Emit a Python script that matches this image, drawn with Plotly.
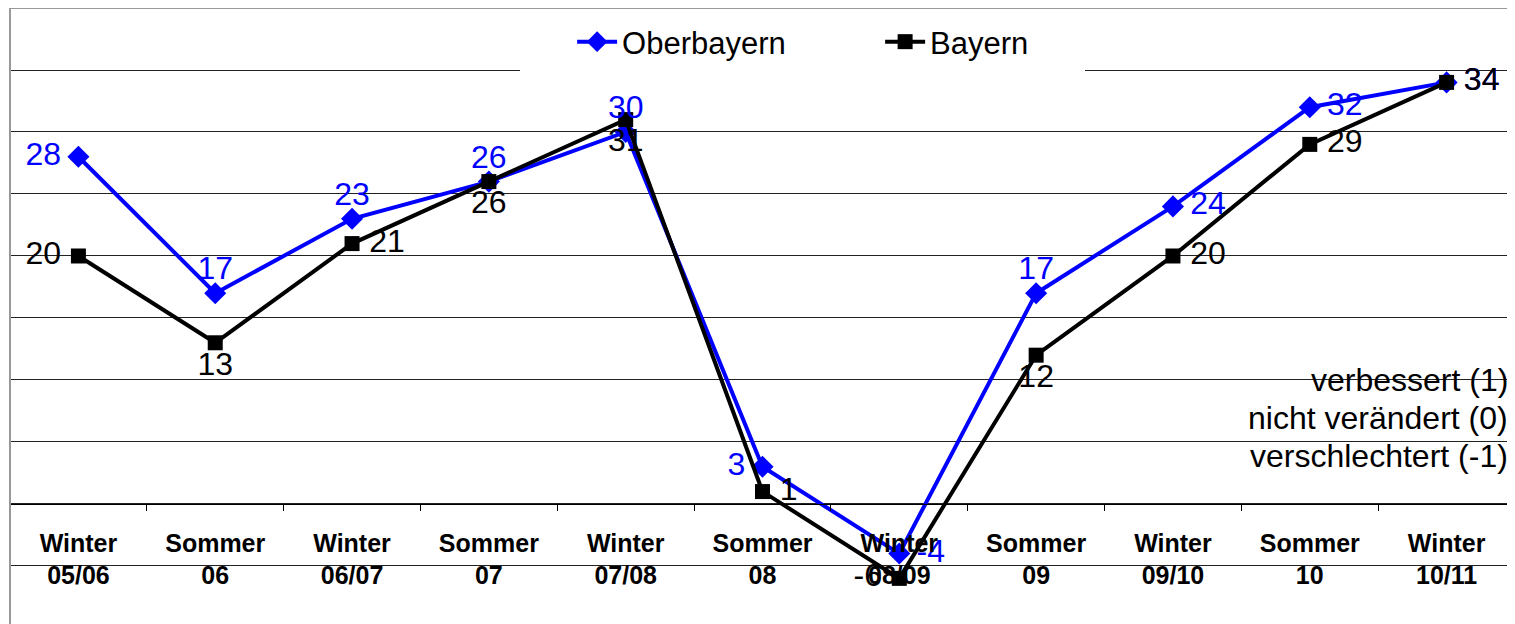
import plotly.graph_objects as go

categories = ["Winter<br>05/06", "Sommer<br>06", "Winter<br>06/07", "Sommer<br>07",
              "Winter<br>07/08", "Sommer<br>08", "Winter<br>08/09", "Sommer<br>09",
              "Winter<br>09/10", "Sommer<br>10", "Winter<br>10/11"]
oberbayern = [28, 17, 23, 26, 30, 3, -4, 17, 24, 32, 34]
bayern = [20, 13, 21, 26, 31, 1, -6, 12, 20, 29, 34]

ob_pos = ["middle left", "top center", "top center", "top center", "top center",
          "middle left", "middle right", "top center", "middle right", "middle right", "middle right"]
by_pos = ["middle left", "bottom center", "middle right", "bottom center", "bottom center",
          "middle right", "middle left", "bottom center", "middle right", "middle right", "middle right"]

scale_labels = ["verbessert (1)", "nicht verändert (0)", "verschlechtert (-1)"]

FONT = "Liberation Sans, Arial, sans-serif"
BLUE = "#0000FF"


def pad_sizes(positions):
    # invisible marker size per label so the label sits away from the point
    out = []
    for p in positions:
        if "left" in p or "right" in p:
            out.append(26)
        elif p.startswith("top"):
            out.append(8)
        else:
            out.append(11)
    return out


fig = go.Figure()
fig.add_trace(go.Scatter(x=categories, y=oberbayern, name="Oberbayern", mode="lines+markers",
                         line=dict(color=BLUE, width=4),
                         marker=dict(symbol="diamond", size=17, color=BLUE)))
fig.add_trace(go.Scatter(x=categories, y=bayern, name="Bayern", mode="lines+markers",
                         line=dict(color="black", width=4),
                         marker=dict(symbol="square", size=15, color="black")))
fig.add_trace(go.Scatter(x=categories, y=oberbayern, mode="markers+text", showlegend=False,
                         hoverinfo="skip",
                         marker=dict(size=pad_sizes(ob_pos), color="rgba(0,0,0,0)", opacity=0,
                                     line=dict(width=0, color="rgba(0,0,0,0)")),
                         text=[str(v) for v in oberbayern], textposition=ob_pos,
                         textfont=dict(color=BLUE, size=32, family=FONT)))
fig.add_trace(go.Scatter(x=categories, y=bayern, mode="markers+text", showlegend=False,
                         hoverinfo="skip",
                         marker=dict(size=pad_sizes(by_pos), color="rgba(0,0,0,0)", opacity=0,
                                     line=dict(width=0, color="rgba(0,0,0,0)")),
                         text=[str(v) for v in bayern], textposition=by_pos,
                         textfont=dict(color="black", size=32, family=FONT)))

ymin, ymax = -9.68, 40
PH = 616  # plot height in px

fig.update_layout(
    width=1507, height=616,
    margin=dict(l=2, r=0, t=0, b=0),
    paper_bgcolor="white", plot_bgcolor="white",
    font=dict(family=FONT, color="black"),
    showlegend=True,
    legend=dict(orientation="h", x=0.3735, xanchor="left", y=1 - (42 - 8) / PH, yanchor="middle",
                bgcolor="rgba(0,0,0,0)", font=dict(size=31, family=FONT),
                entrywidth=253, itemwidth=40),
    xaxis=dict(type="category", range=[-0.5, 10.5], anchor="free",
               position=(0 - ymin) / (ymax - ymin),
               showline=True, linecolor="black", linewidth=1,
               ticks="outside", ticklen=6, tickcolor="black", tickwidth=1,
               tickson="boundaries", showgrid=False,
               tickfont=dict(size=25, family=FONT, weight="bold", color="black"),
               ticklabelstandoff=17),
    yaxis=dict(range=[ymin, ymax], dtick=5, tick0=0, showticklabels=False,
               showgrid=True, gridcolor="#222222", gridwidth=1,
               zeroline=False, showline=False),
    shapes=[
        dict(type="rect", xref="paper", yref="paper", x0=(520 - 10) / 1505, x1=(1085 - 10) / 1505,
             y0=1 - (72 - 8) / PH, y1=1.0, fillcolor="white", line=dict(width=0), layer="above"),
        dict(type="line", xref="paper", yref="paper", x0=0, x1=0, y0=0, y1=1,
             line=dict(color="#999999", width=2)),
        dict(type="line", xref="paper", yref="paper", x0=0, x1=1, y0=1, y1=1,
             line=dict(color="#999999", width=2)),
    ],
)

for i, lab in enumerate(scale_labels):
    fig.add_annotation(text=lab, xref="paper", yref="y", x=1.0, xanchor="right",
                       y=10 - 3.06 * i, yanchor="middle", showarrow=False, xshift=-5,
                       font=dict(size=32, family=FONT, color="black"))

fig.write_html("out.html")
